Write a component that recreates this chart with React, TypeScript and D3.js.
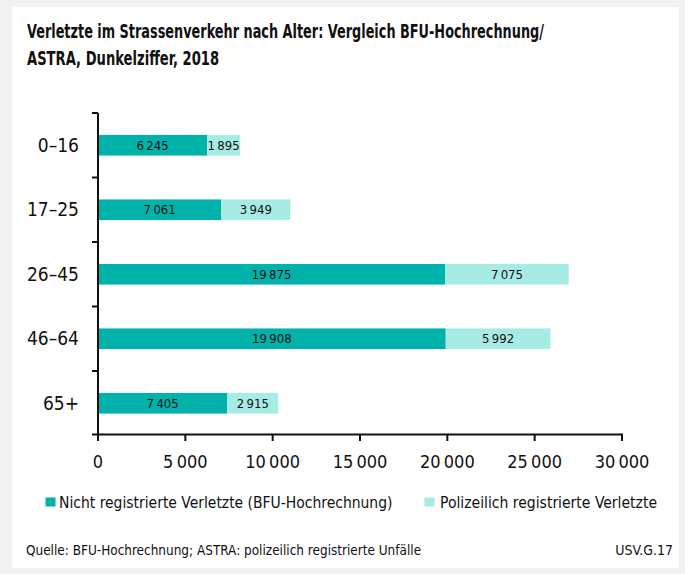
import React from "react";
import * as d3 from "d3";

const categories = ["0–16", "17–25", "26–45", "46–64", "65+"];
const nichtRegistriert = [6245, 7061, 19875, 19908, 7405];
const polizeilich = [1895, 3949, 7075, 5992, 2915];
const xTicks = [0, 5000, 10000, 15000, 20000, 25000, 30000];
const seriesNames = ["Nicht registrierte Verletzte (BFU-Hochrechnung)", "Polizeilich registrierte Verletzte"];
const titleLines = ["Verletzte im Strassenverkehr nach Alter: Vergleich BFU-Hochrechnung/", "ASTRA, Dunkelziffer, 2018"];
const source = "Quelle: BFU-Hochrechnung; ASTRA: polizeilich registrierte Unfälle";
const code = "USV.G.17";

const W = 685, H = 574;
const FONT = "'Liberation Sans Narrow', 'DejaVu Sans Condensed', 'Roboto', sans-serif";
const DARK = "#00b2a9";
const LIGHT = "#a6ebe4";

const fmt = (v: number) => {
  const s = String(v);
  return s.replace(/\B(?=(\d{3})+(?!\d))/g, "\u2009");
};

function SText(props: { x: number; y: number; sx: number; size: number; bold?: boolean; anchor?: string; children: string }) {
  return (
    <g transform={`translate(${props.x},${props.y}) scale(${props.sx},1)`}>
      <text x={0} y={0} fontSize={props.size} fontWeight={props.bold ? "bold" : "normal"} textAnchor={props.anchor || "start"} fill="#111">{props.children}</text>
    </g>
  );
}

export default function App() {
  const x = d3.scaleLinear().domain([0, 30000]).range([98, 622]);
  const y = d3.scaleBand().domain(categories).range([113, 435.5]).paddingInner(0.68).paddingOuter(0.34);
  const bandTicks = d3.range(categories.length + 1).map(i => 113 + i * (435.5 - 113) / categories.length);
  return (
    <svg width={W} height={H} style={{ position: "absolute", left: 0, top: 0 }} fontFamily={FONT}>
      <rect x={0} y={0} width={W} height={H} fill="#f2f2f2" />
      <rect x={12} y={7} width={667} height={561} fill="#ffffff" />
      <SText x={27} y={38} sx={0.715} size={20} bold>{titleLines[0]}</SText>
      <SText x={27} y={65} sx={0.73} size={20} bold>{titleLines[1]}</SText>
      {categories.map((c, i) => {
        const by = y(c)!;
        const bh = y.bandwidth();
        const a = nichtRegistriert[i], b = polizeilich[i];
        return (
          <g key={c}>
            <rect x={x(0)} y={by} width={x(a) - x(0)} height={bh} fill={DARK} />
            <rect x={x(a)} y={by} width={x(a + b) - x(a)} height={bh} fill={LIGHT} />
            <text x={(x(0) + x(a)) / 2} y={by + bh / 2 + 4.5} textAnchor="middle" fontSize={13} fill="#111">{fmt(a)}</text>
            <text x={(x(a) + x(a + b)) / 2} y={by + bh / 2 + 4.5} textAnchor="middle" fontSize={13} fill="#111">{fmt(b)}</text>
            <text x={79} y={by + bh / 2 + 6.5} textAnchor="end" fontSize={19} fill="#111">{c}</text>
          </g>
        );
      })}
      <line x1={98} x2={98} y1={113} y2={435.5} stroke="#111" strokeWidth={2} />
      {bandTicks.slice(0, -1).map((t, i) => (
        <line key={i} x1={92} x2={98} y1={t} y2={t} stroke="#111" strokeWidth={2} />
      ))}
      <line x1={92} x2={623} y1={434.5} y2={434.5} stroke="#111" strokeWidth={2} />
      {xTicks.map(t => (
        <g key={t}>
          <line x1={x(t)} x2={x(t)} y1={434.5} y2={441} stroke="#111" strokeWidth={2} />
          <text x={x(t)} y={468} textAnchor="middle" fontSize={18} fill="#111">{fmt(t)}</text>
        </g>
      ))}
      <rect x={45.5} y={497.5} width={10} height={9} fill={DARK} />
      <SText x={59} y={508} sx={0.968} size={16}>{seriesNames[0]}</SText>
      <rect x={424.5} y={497.5} width={10} height={9} fill={LIGHT} />
      <SText x={440} y={508} sx={0.973} size={16}>{seriesNames[1]}</SText>
      <SText x={26} y={555} sx={0.96} size={14}>{source}</SText>
      <text x={673} y={555} textAnchor="end" fontSize={14} fill="#111">{code}</text>
    </svg>
  );
}
